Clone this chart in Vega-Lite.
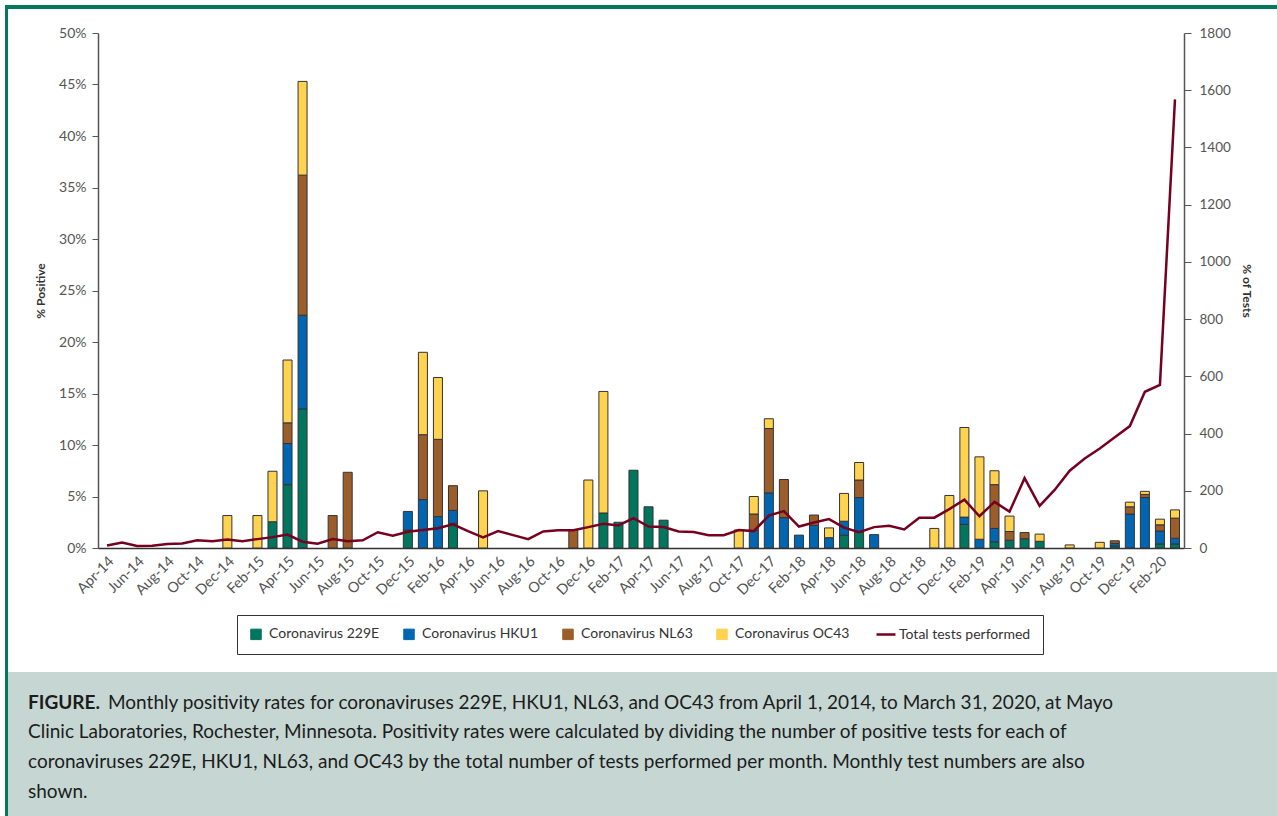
{
  "$schema": "https://vega.github.io/schema/vega-lite/v6.json",
  "background": "white",
  "padding": {"left": 5, "top": 5, "right": 0, "bottom": 0},
  "spacing": 0,
  "resolve": {"scale": {"color": "independent"}},
  "config": {
    "font": "Lato",
    "view": {"stroke": null},
    "axis": {"grid": false, "labelFont": "Lato", "titleFont": "Lato"},
    "concat": {"spacing": 0}
  },
  "datasets": {
    "bars": [
      {"month": "Dec-14", "virus": "Coronavirus OC43", "pct": 3.15},
      {"month": "Feb-15", "virus": "Coronavirus OC43", "pct": 3.15},
      {"month": "Mar-15", "virus": "Coronavirus 229E", "pct": 2.55},
      {"month": "Mar-15", "virus": "Coronavirus OC43", "pct": 4.9},
      {"month": "Apr-15", "virus": "Coronavirus 229E", "pct": 6.15},
      {"month": "Apr-15", "virus": "Coronavirus HKU1", "pct": 4.0},
      {"month": "Apr-15", "virus": "Coronavirus NL63", "pct": 2.0},
      {"month": "Apr-15", "virus": "Coronavirus OC43", "pct": 6.1},
      {"month": "May-15", "virus": "Coronavirus 229E", "pct": 13.5},
      {"month": "May-15", "virus": "Coronavirus HKU1", "pct": 9.1},
      {"month": "May-15", "virus": "Coronavirus NL63", "pct": 13.6},
      {"month": "May-15", "virus": "Coronavirus OC43", "pct": 9.1},
      {"month": "Jul-15", "virus": "Coronavirus NL63", "pct": 3.15},
      {"month": "Aug-15", "virus": "Coronavirus NL63", "pct": 7.35},
      {"month": "Dec-15", "virus": "Coronavirus 229E", "pct": 1.75},
      {"month": "Dec-15", "virus": "Coronavirus HKU1", "pct": 1.8},
      {"month": "Jan-16", "virus": "Coronavirus HKU1", "pct": 4.7},
      {"month": "Jan-16", "virus": "Coronavirus NL63", "pct": 6.3},
      {"month": "Jan-16", "virus": "Coronavirus OC43", "pct": 8.0},
      {"month": "Feb-16", "virus": "Coronavirus HKU1", "pct": 3.05},
      {"month": "Feb-16", "virus": "Coronavirus NL63", "pct": 7.5},
      {"month": "Feb-16", "virus": "Coronavirus OC43", "pct": 6.0},
      {"month": "Mar-16", "virus": "Coronavirus 229E", "pct": 2.4},
      {"month": "Mar-16", "virus": "Coronavirus HKU1", "pct": 1.25},
      {"month": "Mar-16", "virus": "Coronavirus NL63", "pct": 2.4},
      {"month": "May-16", "virus": "Coronavirus OC43", "pct": 5.55},
      {"month": "Nov-16", "virus": "Coronavirus NL63", "pct": 1.7},
      {"month": "Dec-16", "virus": "Coronavirus OC43", "pct": 6.6},
      {"month": "Jan-17", "virus": "Coronavirus 229E", "pct": 3.4},
      {"month": "Jan-17", "virus": "Coronavirus OC43", "pct": 11.8},
      {"month": "Feb-17", "virus": "Coronavirus 229E", "pct": 2.5},
      {"month": "Mar-17", "virus": "Coronavirus 229E", "pct": 7.55},
      {"month": "Apr-17", "virus": "Coronavirus 229E", "pct": 4.0},
      {"month": "May-17", "virus": "Coronavirus 229E", "pct": 2.7},
      {"month": "Oct-17", "virus": "Coronavirus OC43", "pct": 1.75},
      {"month": "Nov-17", "virus": "Coronavirus HKU1", "pct": 1.7},
      {"month": "Nov-17", "virus": "Coronavirus NL63", "pct": 1.6},
      {"month": "Nov-17", "virus": "Coronavirus OC43", "pct": 1.7},
      {"month": "Dec-17", "virus": "Coronavirus HKU1", "pct": 5.35},
      {"month": "Dec-17", "virus": "Coronavirus NL63", "pct": 6.25},
      {"month": "Dec-17", "virus": "Coronavirus OC43", "pct": 0.95},
      {"month": "Jan-18", "virus": "Coronavirus HKU1", "pct": 2.95},
      {"month": "Jan-18", "virus": "Coronavirus NL63", "pct": 3.7},
      {"month": "Feb-18", "virus": "Coronavirus HKU1", "pct": 1.25},
      {"month": "Mar-18", "virus": "Coronavirus HKU1", "pct": 2.2},
      {"month": "Mar-18", "virus": "Coronavirus NL63", "pct": 1.0},
      {"month": "Apr-18", "virus": "Coronavirus HKU1", "pct": 1.0},
      {"month": "Apr-18", "virus": "Coronavirus OC43", "pct": 0.95},
      {"month": "May-18", "virus": "Coronavirus 229E", "pct": 1.25},
      {"month": "May-18", "virus": "Coronavirus HKU1", "pct": 1.35},
      {"month": "May-18", "virus": "Coronavirus OC43", "pct": 2.7},
      {"month": "Jun-18", "virus": "Coronavirus 229E", "pct": 1.55},
      {"month": "Jun-18", "virus": "Coronavirus HKU1", "pct": 3.35},
      {"month": "Jun-18", "virus": "Coronavirus NL63", "pct": 1.7},
      {"month": "Jun-18", "virus": "Coronavirus OC43", "pct": 1.7},
      {"month": "Jul-18", "virus": "Coronavirus HKU1", "pct": 1.3},
      {"month": "Nov-18", "virus": "Coronavirus OC43", "pct": 1.9},
      {"month": "Dec-18", "virus": "Coronavirus OC43", "pct": 5.1},
      {"month": "Jan-19", "virus": "Coronavirus 229E", "pct": 2.3},
      {"month": "Jan-19", "virus": "Coronavirus HKU1", "pct": 0.7},
      {"month": "Jan-19", "virus": "Coronavirus OC43", "pct": 8.7},
      {"month": "Feb-19", "virus": "Coronavirus HKU1", "pct": 0.85},
      {"month": "Feb-19", "virus": "Coronavirus OC43", "pct": 8.0},
      {"month": "Mar-19", "virus": "Coronavirus 229E", "pct": 0.6},
      {"month": "Mar-19", "virus": "Coronavirus HKU1", "pct": 1.3},
      {"month": "Mar-19", "virus": "Coronavirus NL63", "pct": 4.25},
      {"month": "Mar-19", "virus": "Coronavirus OC43", "pct": 1.35},
      {"month": "Apr-19", "virus": "Coronavirus 229E", "pct": 0.75},
      {"month": "Apr-19", "virus": "Coronavirus NL63", "pct": 0.85},
      {"month": "Apr-19", "virus": "Coronavirus OC43", "pct": 1.5},
      {"month": "May-19", "virus": "Coronavirus 229E", "pct": 0.9},
      {"month": "May-19", "virus": "Coronavirus NL63", "pct": 0.6},
      {"month": "Jun-19", "virus": "Coronavirus 229E", "pct": 0.65},
      {"month": "Jun-19", "virus": "Coronavirus OC43", "pct": 0.7},
      {"month": "Aug-19", "virus": "Coronavirus OC43", "pct": 0.3},
      {"month": "Oct-19", "virus": "Coronavirus OC43", "pct": 0.55},
      {"month": "Nov-19", "virus": "Coronavirus 229E", "pct": 0.2},
      {"month": "Nov-19", "virus": "Coronavirus HKU1", "pct": 0.25},
      {"month": "Nov-19", "virus": "Coronavirus NL63", "pct": 0.25},
      {"month": "Dec-19", "virus": "Coronavirus HKU1", "pct": 3.3},
      {"month": "Dec-19", "virus": "Coronavirus NL63", "pct": 0.7},
      {"month": "Dec-19", "virus": "Coronavirus OC43", "pct": 0.45},
      {"month": "Jan-20", "virus": "Coronavirus HKU1", "pct": 4.9},
      {"month": "Jan-20", "virus": "Coronavirus NL63", "pct": 0.3},
      {"month": "Jan-20", "virus": "Coronavirus OC43", "pct": 0.3},
      {"month": "Feb-20", "virus": "Coronavirus 229E", "pct": 0.4},
      {"month": "Feb-20", "virus": "Coronavirus HKU1", "pct": 1.25},
      {"month": "Feb-20", "virus": "Coronavirus NL63", "pct": 0.6},
      {"month": "Feb-20", "virus": "Coronavirus OC43", "pct": 0.55},
      {"month": "Mar-20", "virus": "Coronavirus 229E", "pct": 0.4},
      {"month": "Mar-20", "virus": "Coronavirus HKU1", "pct": 0.55},
      {"month": "Mar-20", "virus": "Coronavirus NL63", "pct": 1.95},
      {"month": "Mar-20", "virus": "Coronavirus OC43", "pct": 0.8}
    ],
    "tests": [
      {"month": "Apr-14", "tests": 9}, {"month": "May-14", "tests": 19}, {"month": "Jun-14", "tests": 7},
      {"month": "Jul-14", "tests": 8}, {"month": "Aug-14", "tests": 14}, {"month": "Sep-14", "tests": 16},
      {"month": "Oct-14", "tests": 27}, {"month": "Nov-14", "tests": 24}, {"month": "Dec-14", "tests": 30},
      {"month": "Jan-15", "tests": 24}, {"month": "Feb-15", "tests": 31}, {"month": "Mar-15", "tests": 38},
      {"month": "Apr-15", "tests": 47}, {"month": "May-15", "tests": 22}, {"month": "Jun-15", "tests": 15},
      {"month": "Jul-15", "tests": 31}, {"month": "Aug-15", "tests": 24}, {"month": "Sep-15", "tests": 27},
      {"month": "Oct-15", "tests": 55}, {"month": "Nov-15", "tests": 43}, {"month": "Dec-15", "tests": 57},
      {"month": "Jan-16", "tests": 63}, {"month": "Feb-16", "tests": 69}, {"month": "Mar-16", "tests": 83},
      {"month": "Apr-16", "tests": 59}, {"month": "May-16", "tests": 37}, {"month": "Jun-16", "tests": 59},
      {"month": "Jul-16", "tests": 45}, {"month": "Aug-16", "tests": 31}, {"month": "Sep-16", "tests": 58},
      {"month": "Oct-16", "tests": 62}, {"month": "Nov-16", "tests": 62}, {"month": "Dec-16", "tests": 73},
      {"month": "Jan-17", "tests": 85}, {"month": "Feb-17", "tests": 79}, {"month": "Mar-17", "tests": 104},
      {"month": "Apr-17", "tests": 75}, {"month": "May-17", "tests": 73}, {"month": "Jun-17", "tests": 58},
      {"month": "Jul-17", "tests": 56}, {"month": "Aug-17", "tests": 45}, {"month": "Sep-17", "tests": 45},
      {"month": "Oct-17", "tests": 63}, {"month": "Nov-17", "tests": 59}, {"month": "Dec-17", "tests": 113},
      {"month": "Jan-18", "tests": 129}, {"month": "Feb-18", "tests": 75}, {"month": "Mar-18", "tests": 89},
      {"month": "Apr-18", "tests": 101}, {"month": "May-18", "tests": 71}, {"month": "Jun-18", "tests": 55},
      {"month": "Jul-18", "tests": 73}, {"month": "Aug-18", "tests": 78}, {"month": "Sep-18", "tests": 65},
      {"month": "Oct-18", "tests": 106}, {"month": "Nov-18", "tests": 106}, {"month": "Dec-18", "tests": 136},
      {"month": "Jan-19", "tests": 169}, {"month": "Feb-19", "tests": 111}, {"month": "Mar-19", "tests": 161},
      {"month": "Apr-19", "tests": 127}, {"month": "May-19", "tests": 244}, {"month": "Jun-19", "tests": 147},
      {"month": "Jul-19", "tests": 203}, {"month": "Aug-19", "tests": 270}, {"month": "Sep-19", "tests": 313},
      {"month": "Oct-19", "tests": 348}, {"month": "Nov-19", "tests": 387}, {"month": "Dec-19", "tests": 426},
      {"month": "Jan-20", "tests": 546}, {"month": "Feb-20", "tests": 570}, {"month": "Mar-20", "tests": 1568}
    ],
    "caption": [
      {"line": 0, "part": "lead", "text": "FIGURE."},
      {"line": 0, "part": "body", "text": "Monthly positivity rates for coronaviruses 229E, HKU1, NL63, and OC43 from April 1, 2014, to March 31, 2020, at Mayo"},
      {"line": 1, "part": "body", "text": "Clinic Laboratories, Rochester, Minnesota. Positivity rates were calculated by dividing the number of positive tests for each of"},
      {"line": 2, "part": "body", "text": "coronaviruses 229E, HKU1, NL63, and OC43 by the total number of tests performed per month. Monthly test numbers are also"},
      {"line": 3, "part": "body", "text": "shown."}
    ]
  },
  "hconcat": [
    {
      "width": 3, "height": 811,
      "data": {"values": []},
      "mark": "text",
      "view": {"fill": "#04785d", "stroke": null}
    },
    {
      "spacing": 17,
      "resolve": {"scale": {"color": "independent"}},
      "vconcat": [
        {
          "width": 1269, "height": 4,
          "data": {"values": []},
          "mark": "text",
          "view": {"fill": "#04785d", "stroke": null}
        },
        {
          "spacing": 0,
          "resolve": {"scale": {"color": "independent"}},
          "hconcat": [
            {
              "width": 26, "height": 1,
              "data": {"values": []},
              "mark": "text"
            },
            {
              "width": 1086, "height": 515,
              "resolve": {"scale": {"y": "independent"}},
              "encoding": {
                "x": {
                  "field": "month", "type": "ordinal", "title": null,
                  "scale": {
                    "domain": ["Apr-14","May-14","Jun-14","Jul-14","Aug-14","Sep-14","Oct-14","Nov-14","Dec-14",
                      "Jan-15","Feb-15","Mar-15","Apr-15","May-15","Jun-15","Jul-15","Aug-15","Sep-15","Oct-15","Nov-15","Dec-15",
                      "Jan-16","Feb-16","Mar-16","Apr-16","May-16","Jun-16","Jul-16","Aug-16","Sep-16","Oct-16","Nov-16","Dec-16",
                      "Jan-17","Feb-17","Mar-17","Apr-17","May-17","Jun-17","Jul-17","Aug-17","Sep-17","Oct-17","Nov-17","Dec-17",
                      "Jan-18","Feb-18","Mar-18","Apr-18","May-18","Jun-18","Jul-18","Aug-18","Sep-18","Oct-18","Nov-18","Dec-18",
                      "Jan-19","Feb-19","Mar-19","Apr-19","May-19","Jun-19","Jul-19","Aug-19","Sep-19","Oct-19","Nov-19","Dec-19",
                      "Jan-20","Feb-20","Mar-20"],
                    "paddingInner": 0.4, "paddingOuter": 0.3
                  },
                  "axis": {
                    "values": ["Apr-14","Jun-14","Aug-14","Oct-14","Dec-14","Feb-15","Apr-15","Jun-15","Aug-15","Oct-15","Dec-15",
                      "Feb-16","Apr-16","Jun-16","Aug-16","Oct-16","Dec-16","Feb-17","Apr-17","Jun-17","Aug-17","Oct-17","Dec-17",
                      "Feb-18","Apr-18","Jun-18","Aug-18","Oct-18","Dec-18","Feb-19","Apr-19","Jun-19","Aug-19","Oct-19","Dec-19","Feb-20"],
                    "labelAngle": -45, "ticks": false, "domainColor": "#333333", "domainWidth": 1.5,
                    "labelFontSize": 14.5, "labelColor": "#555555", "labelPadding": 6
                  }
                }
              },
              "layer": [
                {
                  "data": {"name": "bars"},
                  "mark": {"type": "bar", "stroke": "#333333", "strokeWidth": 1},
                  "encoding": {
                    "y": {
                      "field": "pct", "type": "quantitative", "stack": "zero",
                      "scale": {"domain": [0, 50]},
                      "axis": {
                        "title": "% Positive", "values": [0,5,10,15,20,25,30,35,40,45,50],
                        "labelExpr": "datum.value + '%'",
                        "titleFontWeight": "bold", "titleFontSize": 12, "titleColor": "#333333", "titlePadding": 11,
                        "labelPadding": 6, "tickSize": 6, "domainColor": "#555555", "tickColor": "#555555",
                        "domainWidth": 1.5, "labelFontSize": 14, "labelColor": "#555555"
                      }
                    },
                    "order": {"field": "virus", "sort": "ascending"},
                    "color": {
                      "field": "virus", "type": "nominal",
                      "scale": {
                        "domain": ["Coronavirus 229E","Coronavirus HKU1","Coronavirus NL63","Coronavirus OC43","Total tests performed"],
                        "range": ["#00765e","#0066b2","#9b5e2a","#ffd24f","#76001f"]
                      },
                      "legend": {
                        "title": null, "orient": "none", "legendX": 139, "legendY": 582,
                        "direction": "horizontal", "columns": 5,
                        "symbolType": "square", "symbolSize": 110, "symbolStrokeColor": "#333333", "symbolStrokeWidth": 1,
                        "labelFontSize": 14, "labelColor": "#333333", "labelOffset": 6, "columnPadding": 21,
                        "padding": 12, "strokeColor": "#333333", "fillColor": "white", "labelLimit": 400,
                        "encode": {
                          "symbols": {
                            "update": {
                              "shape": {"signal": "datum.value === 'Total tests performed' ? 'stroke' : 'square'"},
                              "size": {"signal": "datum.value === 'Total tests performed' ? 360 : 110"},
                              "stroke": {"signal": "datum.value === 'Total tests performed' ? '#76001f' : '#333333'"},
                              "strokeWidth": {"signal": "datum.value === 'Total tests performed' ? 2.5 : 1"}
                            }
                          }
                        }
                      }
                    }
                  }
                },
                {
                  "data": {"name": "tests"},
                  "mark": {"type": "line", "strokeWidth": 2.5},
                  "encoding": {
                    "y": {
                      "field": "tests", "type": "quantitative",
                      "scale": {"domain": [0, 1800]},
                      "axis": {
                        "orient": "right", "title": "% of Tests", "values": [0,200,400,600,800,1000,1200,1400,1600,1800],
                        "format": "d",
                        "titleFontWeight": "bold", "titleFontSize": 12, "titleColor": "#333333", "titlePadding": 9,
                        "labelPadding": 8, "tickSize": 7, "domainColor": "#555555", "tickColor": "#555555",
                        "domainWidth": 1.5, "labelFontSize": 13.5, "labelColor": "#555555"
                      }
                    },
                    "color": {
                      "datum": "Total tests performed", "type": "nominal",
                      "scale": {
                        "domain": ["Coronavirus 229E","Coronavirus HKU1","Coronavirus NL63","Coronavirus OC43","Total tests performed"],
                        "range": ["#00765e","#0066b2","#9b5e2a","#ffd24f","#76001f"]
                      }
                    }
                  }
                }
              ]
            }
          ]
        },
        {
          "width": 1269, "height": 146,
          "view": {"fill": "#c6d7d3", "stroke": null},
          "data": {"name": "caption"},
          "encoding": {
            "y": {"field": "line", "type": "quantitative", "scale": {"domain": [-1.23, 3.67], "reverse": true}, "axis": null},
            "x": {"datum": 0, "type": "quantitative", "scale": {"domain": [0, 1]}, "axis": null},
            "text": {"field": "text", "type": "nominal"}
          },
          "layer": [
            {
              "transform": [{"filter": "datum.part === 'lead'"}],
              "mark": {"type": "text", "align": "left", "baseline": "alphabetic", "dx": 20, "fontSize": 19, "fontWeight": "bold", "color": "#1c1c1c"}
            },
            {
              "transform": [{"filter": "datum.part === 'body' && datum.line === 0"}],
              "mark": {"type": "text", "align": "left", "baseline": "alphabetic", "dx": 100, "fontSize": 19, "color": "#1c1c1c"}
            },
            {
              "transform": [{"filter": "datum.part === 'body' && datum.line > 0"}],
              "mark": {"type": "text", "align": "left", "baseline": "alphabetic", "dx": 20, "fontSize": 19, "color": "#1c1c1c"}
            }
          ]
        }
      ]
    }
  ]
}
